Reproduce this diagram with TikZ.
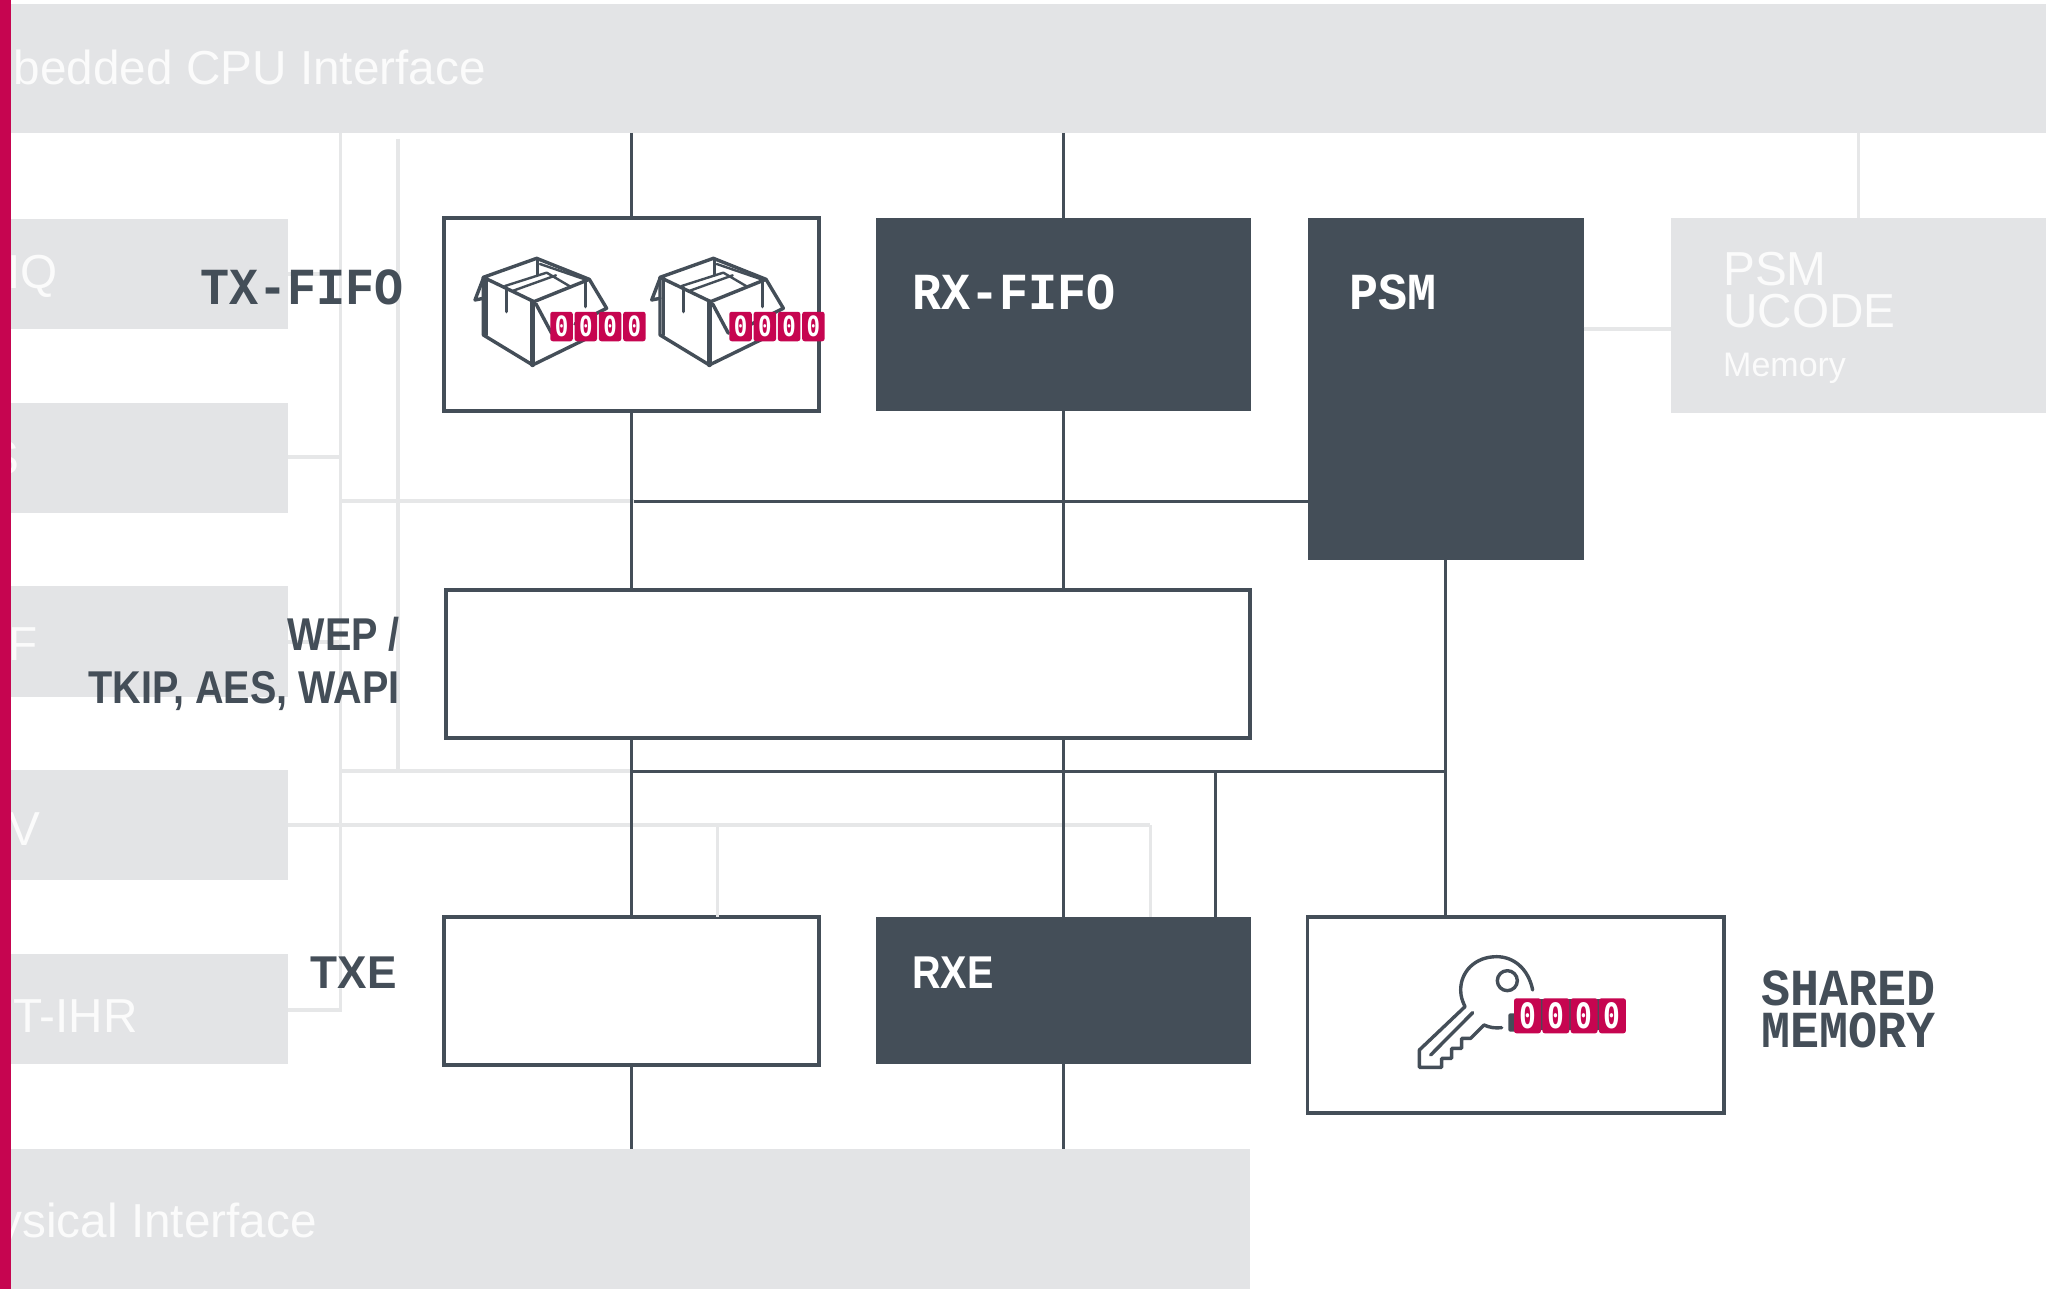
\documentclass[tikz,border=0pt]{standalone}
\usepackage{fontspec}
\setmainfont{Liberation Sans}
\newfontfamily\monolab[FakeStretch=.93]{Liberation Mono}
\newfontfamily\chipfont[FakeStretch=.8]{DejaVu Sans Mono}
\newfontfamily\condlab[FakeStretch=.86]{Liberation Sans}
\newfontfamily\condwide[FakeStretch=.96]{Liberation Sans}
\definecolor{dk}{HTML}{444E58}
\definecolor{gb}{HTML}{E3E4E6}
\definecolor{gl}{HTML}{E6E7E8}
\definecolor{rd}{HTML}{C60550}
\definecolor{wt}{HTML}{FBFBFB}
\newcommand{\fs}[1]{\fontsize{#1}{#1}\selectfont}
\newcommand{\mybox}[6]{%
  \pgfmathsetlengthmacro{\bw}{(#5-#3)*1pt}%
  \pgfmathsetlengthmacro{\bh}{(#6-#4)*1pt}%
  \node[#1,minimum width=\bw,minimum height=\bh,anchor=north west] (#2) at (#3,#4) {};}
\tikzset{
  base/.style={inner sep=0pt,outer sep=0pt,rectangle},
  graybox/.style={base,fill=gb},
  darkbox/.style={base,fill=dk},
  linebox/.style={base,fill=white,draw=dk,line width=3.1pt},
  dkline/.style={draw=dk,line width=3pt},
  glline/.style={draw=gl,line width=3.2pt},
  glthin/.style={draw=gl,line width=3pt},
  icon/.style={draw=dk,line width=3.4pt,line cap=round,line join=round},
  bigtxt/.style={inner sep=0pt,text=wt,font=\fs{47.7}},
  monotxt/.style={inner sep=0pt,font=\monolab\bfseries\fs{52}},
  condtxt/.style={inner sep=0pt,text=dk,font=\condlab\bfseries\fs{46}},
  widetxt/.style={inner sep=0pt,font=\condwide\bfseries\fs{46}},
  chip/.style={base,fill=rd,rounded corners=2.5pt,text=white,font=\chipfont\bfseries\fs{28},text height=20pt,text depth=0pt,minimum width=22.5pt,minimum height=29.5pt},
  chipb/.style={chip,font=\chipfont\bfseries\fs{35},text height=25pt,minimum width=27pt,minimum height=35pt}
}
\newcommand{\crate}[1]{%
  \begin{scope}[shift={(#1pt,-200pt)},x=.3333pt,y=-.3333pt]
    \draw[icon] (160,232) -- (320,175) -- (478,238) -- (312,305) -- cycle;
    \draw[icon] (160,232) -- (160,405) -- (308,495) -- (478,412);
    \draw[icon] (170,240) -- (170,405);
    \draw[icon,line width=4.5pt] (308,305) -- (308,495);
    \draw[icon] (478,238) -- (530,325) -- (435,372);
    \draw[icon] (318,312) -- (365,400);
    \draw[icon] (160,235) -- (135,300) -- (160,295);
    \draw[icon] (230,262) -- (230,335);
    \draw[icon] (467,245) -- (467,320);
    \draw[icon] (323,178) -- (323,225);
    \draw[icon,line width=2.4pt] (225,258) -- (350,218) -- (418,258);
    \draw[icon,line width=2.4pt] (250,272) -- (378,226);
    \draw[icon,line width=2.4pt] (330,192) -- (470,240);
  \end{scope}}
\begin{document}
\begin{tikzpicture}[x=1pt,y=-1pt]
\useasboundingbox (0,0) rectangle (2055,1289);
\fill[white] (0,0) rectangle (2055,1289);
% grey blocks
\mybox{graybox}{cpu}{11}{4}{2046}{133}
\mybox{graybox}{ba}{11}{219}{288}{329}
\mybox{graybox}{bb}{11}{403}{288}{512.5}
\mybox{graybox}{bc}{11}{586}{288}{697}
\mybox{graybox}{bd}{11}{770}{288}{880}
\mybox{graybox}{be}{11}{954}{288}{1064}
\mybox{graybox}{phy}{11}{1149}{1250}{1289}
\mybox{graybox}{ucode}{1671}{218}{2046}{413}
% dark and outlined blocks
\mybox{linebox}{tx}{444}{218}{819}{411}
\mybox{darkbox}{rx}{875.5}{218}{1250.5}{411}
\mybox{darkbox}{psm}{1307.5}{218}{1583.5}{560}
\mybox{linebox}{wep}{446}{590}{1250}{738}
\mybox{linebox}{txe}{444}{917}{819}{1065}
\mybox{darkbox}{rxe}{875.5}{917}{1250.5}{1064}
\mybox{linebox}{shm}{1307.5}{917}{1724}{1113}
% junctions
\coordinate (vx) at (340.5,133);
\coordinate (vy) at (398,139);
\coordinate (ga) at (340.5,501);
\coordinate (gb) at (634,501);
\coordinate (gc) at (340.5,771);
\coordinate (gd) at (631,771);
\coordinate (ge) at (340.5,1010);
\coordinate (gf) at (1150,825);
\coordinate (gg) at (717,825);
\coordinate (gh) at (398,771);
% light connectors
\draw[glline] (vx) -- (ge) -- (bd.east |- ge);
\draw[glline] (vy) -- (gh);
\draw[glline] (ga) -- (gb);
\draw[glline] (gc) -- (gd);
\draw[glline] (ba.east |- 0,274) -- (vx |- 0,274);
\draw[glline] (bb.east |- 0,457) -- (vx |- 0,457);
\draw[glline] (bc.east |- 0,642) -- (vx |- 0,642);
\draw[glline] (bd.east |- gf) -- (gf);
\draw[glthin] (gf) -- (gf |- rxe.north);
\draw[glthin] (gg) -- (gg |- txe.north);
\draw[glline] (cpu.south -| ucode.north) -- (ucode.north);
\draw[glline] (psm.east |- 0,329) -- (ucode.west |- 0,329);
% dark connectors
\coordinate (hb) at (1445.5,771);
\coordinate (hc) at (1215,771);
\draw[dkline] (cpu.south -| tx.north) -- (tx.north);
\draw[dkline] (cpu.south -| rx.north) -- (rx.north);
\draw[dkline] (tx.south) -- (wep.north -| tx.south);
\draw[dkline] (rx.south) -- (wep.north -| rx.south);
\draw[dkline] (gb) -- (psm.west |- gb);
\draw[dkline] (wep.south -| tx.south) -- (txe.north);
\draw[dkline] (wep.south -| rx.south) -- (rxe.north);
\draw[dkline] (gd) -- (hb);
\draw[dkline] (hc) -- (hc |- rxe.north);
\draw[dkline] (psm.south) -- (psm.south |- shm.north);
\draw[dkline] (txe.south) -- (phy.north -| txe.south);
\draw[dkline] (rxe.south) -- (phy.north -| rxe.south);
% light labels
\node[bigtxt,anchor=base east] (tcpu) at (486,84.5) {bedded CPU Interface};
\node[bigtxt,anchor=base east] (tiq) at (58,288.5) {IQ};
\node[bigtxt,anchor=base east] (ts) at (20,474) {S};
\node[bigtxt,anchor=base east] (tf) at (38,660) {F};
\node[bigtxt,anchor=base east] (tv) at (41,845) {V};
\node[bigtxt,anchor=base east] (tihr) at (138,1032) {T-IHR};
\node[bigtxt,anchor=base east] (tphy) at (317,1237) {ysical Interface};
\node[bigtxt,anchor=base west] (tp) at (1723,286) {PSM};
\node[bigtxt,anchor=base west] (tu) at (1723,327) {UCODE};
\node[bigtxt,anchor=base west,font=\fs{34}] (tm) at (1723,376) {Memory};
\fill[rd] (0,0) rectangle (11,1289);
% dark labels
\node[monotxt,text=dk,anchor=base west] (ltx) at (200,305) {TX-FIFO};
\node[monotxt,text=white,anchor=base west] (lrx) at (912,309) {RX-FIFO};
\node[monotxt,text=white,anchor=base west] (lpsm) at (1349,309) {PSM};
\node[monotxt,text=dk,anchor=base west] (lsa) at (1761,1005) {SHARED};
\node[monotxt,text=dk,anchor=base west] (lsb) at (1761,1047) {MEMORY};
\node[condtxt,anchor=base east] (lw) at (400,650) {WEP /};
\node[condtxt,anchor=base east] (lt) at (400,703) {TKIP, AES, WAPI};
\node[widetxt,text=dk,anchor=base east] (ltxe) at (397,988) {TXE};
\node[condtxt,text=white,anchor=base west] (lrxe) at (912,988) {RXE};
% icons
\crate{430}
\crate{606.7}
\foreach \i in {0,1,2,3} {
  \node[chip] (ca\i) at ({561.5+24.3*\i},326.5) {0};
  \node[chip] (cb\i) at ({740.5+24.3*\i},326.5) {0};
}
\begin{scope}[shift={(1380pt,-930pt)},x=.3333pt,y=-.3333pt]
  \draw[icon] (458,180) .. controls (445,115) and (400,80) .. (350,80)
     .. controls (285,80) and (242,125) .. (242,180)
     .. controls (242,200) and (248,215) .. (255,230)
     -- (118,360) -- (118,412) -- (185,412) -- (185,385) -- (215,385) -- (215,355)
     -- (245,355) -- (245,325) -- (272,325) -- (312,285)
     .. controls (330,293) and (345,295) .. (365,293);
  \draw[icon] (278,248) -- (152,375);
  \draw[icon] (382,152) circle[radius=30];
  \fill[dk,rounded corners=2pt] (385,250) rectangle (420,305);
  \fill[dk] (470,207) rectangle (680,300);
\end{scope}
\foreach \i in {0,1,2,3} {
  \node[chipb] (cc\i) at ({1527.5+28.3*\i},1015.8) {0};
}
\end{tikzpicture}
\end{document}
